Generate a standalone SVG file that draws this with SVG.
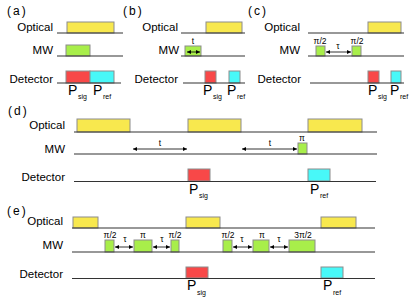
<svg xmlns="http://www.w3.org/2000/svg" width="415" height="301" viewBox="0 0 415 301">
<defs>
<marker id="ah" viewBox="0 0 6 6" refX="6" refY="3" markerWidth="4" markerHeight="4" markerUnits="userSpaceOnUse" orient="auto-start-reverse"><path d="M0,0 L6,3 L0,6 z" fill="#000"/></marker>
</defs>
<style>
.lbl{font-family:"Liberation Sans",Arial,sans-serif;font-size:11.5px;fill:#000;text-anchor:end}
.pl{font-family:"Liberation Sans",Arial,sans-serif;font-size:12px;fill:#000;letter-spacing:2px}
.P{font-family:"Liberation Sans",Arial,sans-serif;font-size:14px;fill:#000}
.sub{font-family:"Liberation Sans",Arial,sans-serif;font-size:7px;fill:#000}
.sm{font-family:"Liberation Sans",Arial,sans-serif;font-size:8.5px;fill:#000;text-anchor:middle}
.ln{stroke:#333;stroke-width:1.2;fill:none}
.y{fill:#F8E84E;stroke:#8c8c8c;stroke-width:1}
.g{fill:#A8EE4A;stroke:#8c8c8c;stroke-width:1}
.r{fill:#F84848;stroke:#8c8c8c;stroke-width:1}
.c{fill:#48F8F8;stroke:#8c8c8c;stroke-width:1}
.ar{stroke:#000;stroke-width:0.8;fill:none;marker-start:url(#ah);marker-end:url(#ah)}
</style>

<!-- Panel (a) -->
<g id="panel-a">
<text class="pl" x="7" y="15">(a)</text>
<g id="a-optical"><text class="lbl" x="53" y="31">Optical</text><rect class="y" x="67" y="22" width="47" height="11"/><line class="ln" x1="57" y1="33" x2="123" y2="33"/></g>
<g id="a-mw"><text class="lbl" x="53" y="54">MW</text><rect class="g" x="66" y="45" width="24" height="11"/><line class="ln" x1="57" y1="56" x2="123" y2="56"/></g>
<g id="a-det"><text class="lbl" x="53" y="82.5">Detector</text><rect class="r" x="66" y="71" width="24" height="12"/><rect class="c" x="90" y="71" width="24" height="12"/><line class="ln" x1="57" y1="83" x2="121" y2="83"/>
<text class="P" x="68" y="95">P</text><text class="sub" x="78" y="99">sig</text><text class="P" x="93" y="95">P</text><text class="sub" x="103" y="99">ref</text></g>
</g>

<!-- Panel (b) -->
<g id="panel-b">
<text class="pl" x="123" y="15">(b)</text>
<g id="b-optical"><text class="lbl" x="178" y="31">Optical</text><rect class="y" x="206" y="22" width="36" height="11"/><line class="ln" x1="181" y1="33" x2="245" y2="33"/></g>
<g id="b-mw"><text class="lbl" x="179" y="54">MW</text><rect class="g" x="185" y="46" width="16" height="10"/><line class="ln" x1="181" y1="56" x2="245" y2="56"/><text class="sm" x="193" y="44">t</text></g>
<g id="b-det"><text class="lbl" x="178" y="82.5">Detector</text><rect class="r" x="205" y="71" width="11" height="12"/><rect class="c" x="229" y="71" width="11" height="12"/><line class="ln" x1="183" y1="83" x2="245" y2="83"/>
<text class="P" x="203" y="95">P</text><text class="sub" x="213" y="99">sig</text><text class="P" x="227" y="95">P</text><text class="sub" x="237" y="99">ref</text></g>
</g>

<!-- Panel (c) -->
<g id="panel-c">
<text class="pl" x="248" y="15">(c)</text>
<g id="c-optical"><text class="lbl" x="300" y="31">Optical</text><rect class="y" x="368" y="22" width="33" height="11"/><line class="ln" x1="308" y1="33" x2="404" y2="33"/></g>
<g id="c-mw"><text class="lbl" x="300" y="54">MW</text><rect class="g" x="316" y="46" width="9" height="10"/><rect class="g" x="352" y="46" width="9" height="10"/><line class="ln" x1="308" y1="56" x2="404" y2="56"/>
<text class="sm" x="320" y="44">π/2</text><text class="sm" x="357" y="44">π/2</text><text class="sm" x="338" y="49">τ</text></g>
<g id="c-det"><text class="lbl" x="301" y="82.5">Detector</text><rect class="r" x="368" y="71" width="11" height="12"/><rect class="c" x="391" y="71" width="10" height="12"/><line class="ln" x1="310" y1="83" x2="404" y2="83"/>
<text class="P" x="368" y="95">P</text><text class="sub" x="378" y="99">sig</text><text class="P" x="390" y="95">P</text><text class="sub" x="400" y="99">ref</text></g>
</g>

<!-- Panel (d) -->
<g id="panel-d">
<text class="pl" x="8" y="115">(d)</text>
<g id="d-optical"><text class="lbl" x="65" y="129">Optical</text><rect class="y" x="77" y="119" width="53" height="13"/><rect class="y" x="188" y="119" width="53" height="13"/><rect class="y" x="308" y="119" width="54" height="13"/><line class="ln" x1="74" y1="132" x2="377" y2="132"/></g>
<g id="d-mw"><text class="lbl" x="65" y="153">MW</text><rect class="g" x="298" y="143" width="9" height="11"/><line class="ln" x1="74" y1="154" x2="377" y2="154"/>
<text class="sm" x="160" y="146">t</text><text class="sm" x="270" y="146">t</text><text class="sm" x="302" y="141">π</text></g>
<g id="d-det"><text class="lbl" x="65" y="181">Detector</text><rect class="r" x="188" y="169" width="22" height="12"/><rect class="c" x="308" y="169" width="22" height="12"/><line class="ln" x1="74" y1="181.5" x2="376" y2="181.5"/>
<text class="P" x="189" y="194">P</text><text class="sub" x="199" y="198">sig</text><text class="P" x="310" y="194">P</text><text class="sub" x="320" y="198">ref</text></g>
</g>

<!-- Panel (e) -->
<g id="panel-e">
<text class="pl" x="7" y="215">(e)</text>
<g id="e-optical"><text class="lbl" x="63" y="225">Optical</text><rect class="y" x="73" y="217" width="25" height="11"/><rect class="y" x="186" y="217" width="34" height="11"/><rect class="y" x="321" y="217" width="35" height="11"/><line class="ln" x1="72" y1="228" x2="375" y2="228"/></g>
<g id="e-mw"><text class="lbl" x="63" y="249">MW</text>
<rect class="g" x="105" y="240" width="9" height="12"/><rect class="g" x="134" y="240" width="18" height="12"/><rect class="g" x="171" y="240" width="8" height="12"/>
<rect class="g" x="223" y="240" width="9" height="12"/><rect class="g" x="253" y="240" width="16" height="12"/><rect class="g" x="289" y="240" width="26" height="12"/>
<line class="ln" x1="72" y1="252" x2="375" y2="252"/>
<text class="sm" x="110" y="238">π/2</text><text class="sm" x="125" y="242">τ</text><text class="sm" x="143" y="238">π</text><text class="sm" x="162" y="242">τ</text><text class="sm" x="175" y="238">π/2</text>
<text class="sm" x="228" y="238">π/2</text><text class="sm" x="242" y="242">τ</text><text class="sm" x="262" y="238">π</text><text class="sm" x="279" y="242">τ</text><text class="sm" x="303" y="238">3π/2</text></g>
<g id="e-det"><text class="lbl" x="63" y="278">Detector</text><rect class="r" x="186" y="267" width="22" height="11"/><rect class="c" x="321" y="267" width="22" height="11"/><line class="ln" x1="72" y1="278.5" x2="375" y2="278.5"/>
<text class="P" x="187" y="290">P</text><text class="sub" x="197" y="295">sig</text><text class="P" x="323" y="290">P</text><text class="sub" x="333" y="295">ref</text></g>
</g>

<!-- connectors: interval arrows -->
<g id="connectors">
<line class="ar" x1="187" y1="52" x2="200" y2="52"/>
<line class="ar" x1="326" y1="52" x2="351" y2="52"/>
<line class="ar" x1="133" y1="149" x2="187" y2="149"/>
<line class="ar" x1="242" y1="149" x2="297" y2="149"/>
<line class="ar" x1="115" y1="247" x2="133" y2="247"/>
<line class="ar" x1="153" y1="247" x2="170" y2="247"/>
<line class="ar" x1="233" y1="247" x2="252" y2="247"/>
<line class="ar" x1="270" y1="247" x2="288" y2="247"/>
</g>
</svg>
